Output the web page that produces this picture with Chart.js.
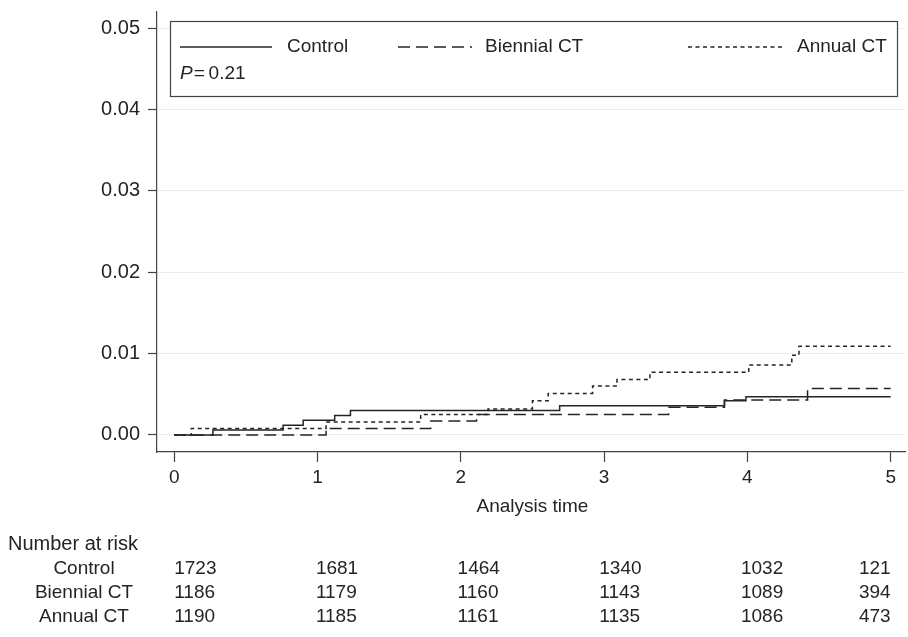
<!DOCTYPE html>
<html>
<head>
<meta charset="utf-8">
<script src="https://cdn.jsdelivr.net/npm/chart.js@4.4.1/dist/chart.umd.min.js"></script>
<style>
  html, body { margin: 0; padding: 0; background: #fff; }
  #wrap { width: 908px; height: 637px; }
</style>
</head>
<body>
<div id="wrap"><canvas id="kmChart" width="908" height="637"></canvas></div>
<script>
// Tick values
const xTicks = [0, 1, 2, 3, 4, 5];
const yTicks = [0, 0.01, 0.02, 0.03, 0.04, 0.05];

// Cumulative incidence, event times (years) and values after each step
const controlTimes = [0.27, 0.76, 0.90, 1.12, 1.23, 2.69, 3.84, 3.99];
const controlRisk  = [0.0006, 0.0012, 0.0018, 0.0024, 0.0030, 0.0036, 0.0042, 0.0047];

const biennialTimes = [1.06, 1.79, 2.11, 3.45, 3.84, 4.42];
const biennialRisk  = [0.0008, 0.0017, 0.0025, 0.0034, 0.0043, 0.0057];

const annualTimes = [0.12, 1.06, 1.72, 2.19, 2.50, 2.61, 2.92, 3.09, 3.32, 4.01, 4.31, 4.36];
const annualRisk  = [0.0008, 0.0016, 0.0025, 0.0032, 0.0042, 0.0051, 0.0060, 0.0068, 0.0077, 0.0086, 0.0098, 0.0109];

const followUpEnd = 5;

// Number at risk table
const groupNames = ['Control', 'Biennial CT', 'Annual CT'];
const atRiskControl  = [1723, 1681, 1464, 1340, 1032, 121];
const atRiskBiennial = [1186, 1179, 1160, 1143, 1089, 394];
const atRiskAnnual   = [1190, 1185, 1161, 1135, 1086, 473];

const FONT = '"Liberation Sans", Arial, sans-serif';
const INK = '#242424';

// build step path (jump at each event time)
function stepPoints(times, values) {
  const pts = [{ x: 0, y: 0 }];
  let prev = 0;
  times.forEach((t, i) => {
    pts.push({ x: t, y: prev });
    pts.push({ x: t, y: values[i] });
    prev = values[i];
  });
  pts.push({ x: followUpEnd, y: prev });
  return pts;
}

// keep the plot area fixed, no extra room for end labels
function noPad(s) {
  s.paddingTop = 0;
  s.paddingBottom = 0;
  s.paddingLeft = 0;
  s.paddingRight = 0;
}

// legend box, p-value, axis title and risk table
const extrasPlugin = {
  id: 'extras',
  afterDraw(chart) {
    const ctx = chart.ctx;
    const xs = chart.scales.x;
    ctx.save();

    // legend box
    ctx.fillStyle = '#fff';
    ctx.fillRect(170, 21, 727, 75);
    ctx.strokeStyle = '#444';
    ctx.lineWidth = 1.2;
    ctx.strokeRect(170.5, 21.5, 727, 75);

    const items = [
      { label: 'Control', dash: [], x1: 180, x2: 272, tx: 287 },
      { label: 'Biennial CT', dash: [12, 6], x1: 398, x2: 472, tx: 485 },
      { label: 'Annual CT', dash: [4, 3.5], x1: 688, x2: 782, tx: 797 }
    ];
    const rowY = 47;
    ctx.font = '19px ' + FONT;
    ctx.textBaseline = 'middle';
    ctx.textAlign = 'left';
    items.forEach(it => {
      ctx.beginPath();
      ctx.setLineDash(it.dash);
      ctx.strokeStyle = INK;
      ctx.lineWidth = 1.4;
      ctx.moveTo(it.x1, rowY);
      ctx.lineTo(it.x2, rowY);
      ctx.stroke();
      ctx.setLineDash([]);
      ctx.fillStyle = INK;
      ctx.fillText(it.label, it.tx, rowY);
    });

    // P value, P in italic
    ctx.font = 'italic 19px ' + FONT;
    ctx.fillText('P', 180, 74);
    const pw = ctx.measureText('P').width;
    ctx.font = '19px ' + FONT;
    ctx.fillText('=\u20090.21', 180 + pw + 1, 74);

    // x axis title
    ctx.textAlign = 'center';
    ctx.fillText('Analysis time', (xs.getPixelForValue(0) + xs.getPixelForValue(5)) / 2, 507);

    // number at risk
    ctx.textAlign = 'left';
    ctx.font = '20px ' + FONT;
    ctx.fillText('Number at risk', 8, 544);
    ctx.font = '19px ' + FONT;
    const rows = [atRiskControl, atRiskBiennial, atRiskAnnual];
    const rowYs = [569, 593, 617];
    const last = xTicks.length - 1;
    rows.forEach((vals, r) => {
      ctx.textAlign = 'center';
      ctx.fillText(groupNames[r], 84, rowYs[r]);
      vals.forEach((v, i) => {
        const px = xs.getPixelForValue(xTicks[i]);
        if (i === last) {
          ctx.textAlign = 'right';
          ctx.fillText(String(v), px, rowYs[r]);
        } else {
          ctx.textAlign = 'left';
          ctx.fillText(String(v), px - 1.6 * i, rowYs[r]);
        }
      });
    });
    ctx.restore();
  }
};

const ctx = document.getElementById('kmChart').getContext('2d');
new Chart(ctx, {
  type: 'line',
  data: {
    datasets: [
      {
        label: 'Control',
        data: stepPoints(controlTimes, controlRisk),
        borderColor: INK,
        borderWidth: 1.5,
        pointRadius: 0,
        fill: false
      },
      {
        label: 'Biennial CT',
        data: stepPoints(biennialTimes, biennialRisk),
        borderColor: INK,
        borderWidth: 1.5,
        borderDash: [12, 6],
        pointRadius: 0,
        fill: false
      },
      {
        label: 'Annual CT',
        data: stepPoints(annualTimes, annualRisk),
        borderColor: INK,
        borderWidth: 1.5,
        borderDash: [4, 3.5],
        pointRadius: 0,
        fill: false
      }
    ]
  },
  options: {
    responsive: false,
    animation: false,
    layout: { padding: { left: 0, top: 12, right: 3, bottom: 115 } },
    plugins: {
      legend: { display: false },
      tooltip: { enabled: false }
    },
    scales: {
      x: {
        type: 'linear',
        min: -0.12,
        max: 5.1,
        afterBuildTicks: s => { s.ticks = xTicks.map(v => ({ value: v })); },
        afterFit: s => { s.height = 70; noPad(s); },
        grid: { drawOnChartArea: false, tickLength: 10, tickColor: '#444', tickWidth: 1.2 },
        border: { color: '#444', width: 1.2 },
        ticks: { color: INK, font: { family: FONT, size: 19 }, padding: 4, maxRotation: 0, autoSkip: false }
      },
      y: {
        min: -0.0021,
        max: 0.052,
        afterBuildTicks: s => { s.ticks = yTicks.map(v => ({ value: v })); },
        afterFit: s => { s.width = 157; noPad(s); },
        grid: { color: '#ececec', lineWidth: 1, tickLength: 9, tickColor: '#444', tickWidth: 1.2 },
        border: { color: '#444', width: 1.2 },
        ticks: {
          color: INK,
          font: { family: FONT, size: 20 },
          padding: 8,
          callback: v => v.toFixed(2)
        }
      }
    }
  },
  plugins: [extrasPlugin]
});
</script>
</body>
</html>
